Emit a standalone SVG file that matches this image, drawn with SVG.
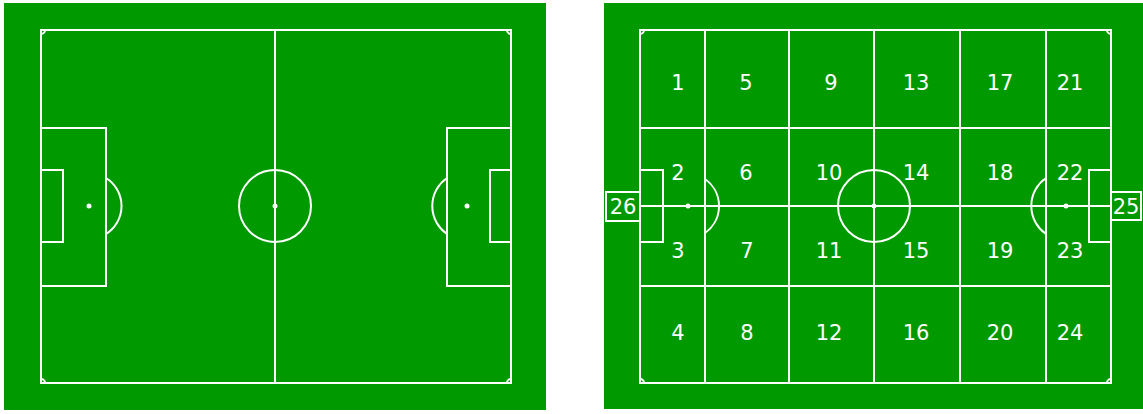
<svg xmlns="http://www.w3.org/2000/svg" width="1143" height="414" viewBox="0 0 1143 414">
<style>
.bg{fill:#009900}
.ln{fill:none;stroke:#ffffff;stroke-width:2}
.spot{fill:#ffffff}
.lbl{font-family:"DejaVu Sans",sans-serif;font-size:21px;fill:#ffffff;text-anchor:middle}
.box{fill:#009900;stroke:#ffffff;stroke-width:2}
</style>
<rect width="1143" height="414" fill="#ffffff"/>
<g id="pitch-left">
<rect class="bg" x="4" y="3" width="542" height="407"/>
<rect class="ln" x="41" y="30" width="470" height="353"/>
<line class="ln" x1="275" y1="30" x2="275" y2="383"/>
<circle class="ln" cx="275" cy="206" r="36"/>
<circle class="spot" cx="275" cy="206" r="2.5"/>
<rect class="ln" x="41" y="128" width="65" height="158"/>
<rect class="ln" x="41" y="170" width="22" height="72"/>
<circle class="spot" cx="89" cy="206" r="2.5"/>
<path class="ln" d="M106,178 A33,33 0 0 1 106,234"/>
<rect class="ln" x="447" y="128" width="64" height="158"/>
<rect class="ln" x="490" y="170" width="21" height="72"/>
<circle class="spot" cx="467" cy="206" r="2.5"/>
<path class="ln" d="M447,178 A34,34 0 0 0 447,234"/>
<path class="ln" d="M41,34 A4,4 0 0 0 45,30 M507,30 A4,4 0 0 0 511,34 M41,379 A4,4 0 0 1 45,383 M507,383 A4,4 0 0 1 511,379"/>
</g>
<g id="pitch-right">
<rect class="bg" x="604" y="3" width="539" height="406"/>
<rect class="ln" x="640" y="30" width="471" height="353"/>
<circle class="ln" cx="874" cy="206" r="36"/>
<circle class="spot" cx="874" cy="206" r="2.5"/>
<rect class="ln" x="640" y="170" width="23" height="72"/>
<rect class="ln" x="1089" y="170" width="22" height="72"/>
<circle class="spot" cx="688" cy="206" r="2.5"/>
<circle class="spot" cx="1066" cy="206" r="2.5"/>
<path class="ln" d="M705,179 A33,33 0 0 1 705,233"/>
<path class="ln" d="M1046,178 A34,34 0 0 0 1046,234"/>
<path class="ln" d="M640,34 A4,4 0 0 0 644,30 M1107,30 A4,4 0 0 0 1111,34 M640,379 A4,4 0 0 1 644,383 M1107,383 A4,4 0 0 1 1111,379"/>
</g>
<g id="connectors">
<line class="ln" x1="705" y1="30" x2="705" y2="383"/>
<line class="ln" x1="789" y1="30" x2="789" y2="383"/>
<line class="ln" x1="874" y1="30" x2="874" y2="383"/>
<line class="ln" x1="960" y1="30" x2="960" y2="383"/>
<line class="ln" x1="1046" y1="30" x2="1046" y2="383"/>
<line class="ln" x1="640" y1="128" x2="1111" y2="128"/>
<line class="ln" x1="640" y1="206" x2="1111" y2="206"/>
<line class="ln" x1="640" y1="286" x2="1111" y2="286"/>
</g>
<g id="zone-1"><text class="lbl" x="678" y="90">1</text></g>
<g id="zone-2"><text class="lbl" x="678" y="180">2</text></g>
<g id="zone-3"><text class="lbl" x="678" y="258">3</text></g>
<g id="zone-4"><text class="lbl" x="678" y="340">4</text></g>
<g id="zone-5"><text class="lbl" x="746" y="90">5</text></g>
<g id="zone-6"><text class="lbl" x="746" y="180">6</text></g>
<g id="zone-7"><text class="lbl" x="747" y="258">7</text></g>
<g id="zone-8"><text class="lbl" x="747" y="340">8</text></g>
<g id="zone-9"><text class="lbl" x="831" y="90">9</text></g>
<g id="zone-10"><text class="lbl" x="829" y="180">10</text></g>
<g id="zone-11"><text class="lbl" x="829" y="258">11</text></g>
<g id="zone-12"><text class="lbl" x="829" y="340">12</text></g>
<g id="zone-13"><text class="lbl" x="916" y="90">13</text></g>
<g id="zone-14"><text class="lbl" x="916" y="180">14</text></g>
<g id="zone-15"><text class="lbl" x="916" y="258">15</text></g>
<g id="zone-16"><text class="lbl" x="916" y="340">16</text></g>
<g id="zone-17"><text class="lbl" x="1000" y="90">17</text></g>
<g id="zone-18"><text class="lbl" x="1000" y="180">18</text></g>
<g id="zone-19"><text class="lbl" x="1000" y="258">19</text></g>
<g id="zone-20"><text class="lbl" x="1000" y="340">20</text></g>
<g id="zone-21"><text class="lbl" x="1070" y="90">21</text></g>
<g id="zone-22"><text class="lbl" x="1070" y="180">22</text></g>
<g id="zone-23"><text class="lbl" x="1070" y="258">23</text></g>
<g id="zone-24"><text class="lbl" x="1070" y="340">24</text></g>
<g id="zone-26"><rect class="box" x="606" y="192" width="34" height="29"/><text class="lbl" x="623" y="214">26</text></g>
<g id="zone-25"><rect class="box" x="1111" y="192" width="30" height="28"/><text class="lbl" x="1126" y="214">25</text></g>
</svg>
